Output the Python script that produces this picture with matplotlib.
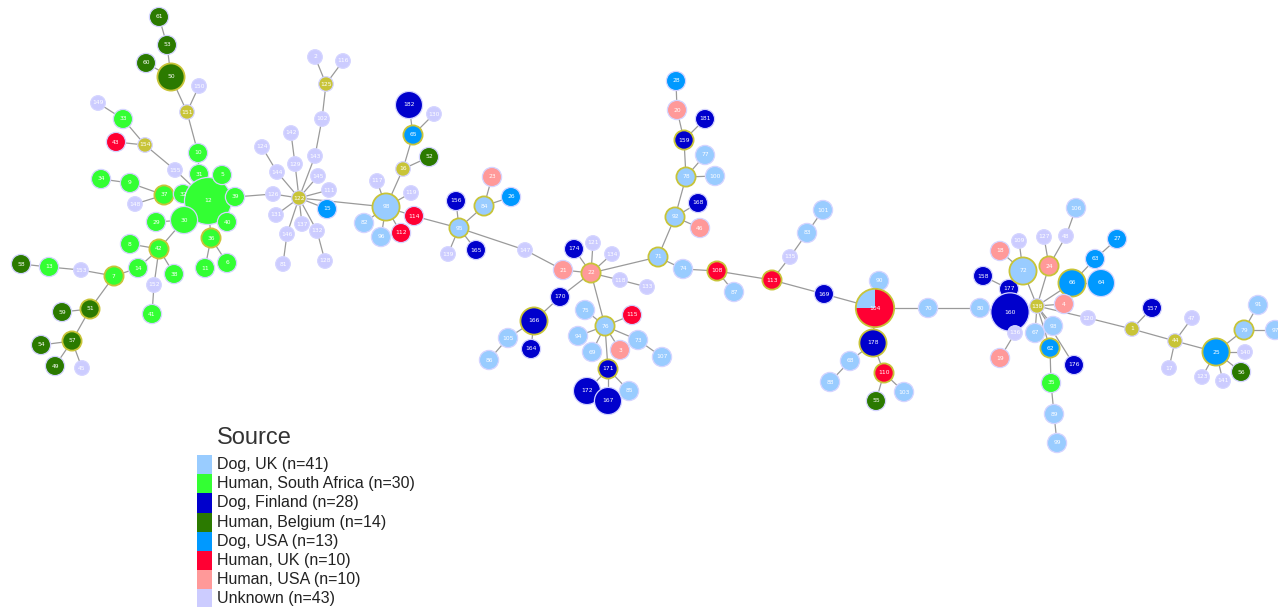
import matplotlib.pyplot as plt
from matplotlib.patches import Circle, Wedge, Rectangle

# Source categories (legend order) and colours
sources = ['Dog, UK', 'Human, South Africa', 'Dog, Finland', 'Human, Belgium',
           'Dog, USA', 'Human, UK', 'Human, USA', 'Unknown']
source_n = [41, 30, 28, 14, 13, 10, 10, 43]
source_colors = ['#99ccff', '#33ff33', '#0000cc', '#2b7a00',
                 '#0099ff', '#ff0033', '#ff9999', '#ccccff']
hyp_color = '#c8c438'

# short codes for the node table
codes = ['DUK', 'HSA', 'DFI', 'HBE', 'DUS', 'HUK', 'HUS', 'UNK']

# node id, source code, number of isolates (HYP = hypothetical node)
node_ids = [61, 53, 60, 50, 150, 151, 149, 33, 43, 154, 155, 10, 31, 34, 9, 37, 32, 12, 148,
            29, 30, 36, 8, 42, 58, 13, 153, 7, 14, 38, 11, 152, 59, 51, 41, 54, 57, 49, 45,
            5, 39, 40, 6,
            2, 116, 125, 102, 142, 124, 143, 129, 144, 145, 126, 122, 111, 15, 131, 137, 146,
            132, 81, 128, 182, 65, 130, 16, 52, 117, 119, 98, 82, 96, 112, 114,
            23, 26, 156, 84, 95, 139, 165, 147, 174, 121, 134, 21, 22, 118, 133, 170, 166,
            105, 164, 86, 75, 76, 115, 94, 69, 3, 171, 172, 167, 85, 73, 107,
            28, 20, 181, 159, 77, 78, 100, 168, 92, 46, 71, 74, 108, 87, 113, 135, 83, 101, 169,
            90, 104, 70, 80, 178, 68, 88, 110, 103, 55, 158, 177, 160, 18, 109, 72, 127, 24,
            48, 106, 138, 136, 67, 93, 62, 19, 35, 89, 99, 27, 63, 66, 64, 4, 120, 1, 157,
            47, 44, 17, 25, 140, 123, 141, 56, 79, 91, 97, 176]
node_src = ['HBE', 'HBE', 'HBE', 'HBE', 'UNK', 'HYP', 'UNK', 'HSA', 'HUK', 'HYP', 'UNK', 'HSA',
            'HSA', 'HSA', 'HSA', 'HSA', 'HSA', 'HSA', 'UNK',
            'HSA', 'HSA', 'HSA', 'HSA', 'HSA', 'HBE', 'HSA', 'UNK', 'HSA', 'HSA', 'HSA', 'HSA',
            'UNK', 'HBE', 'HBE', 'HSA', 'HBE', 'HBE', 'HBE', 'UNK',
            'HSA', 'HSA', 'HSA', 'HSA',
            'UNK', 'UNK', 'HYP', 'UNK', 'UNK', 'UNK', 'UNK', 'UNK', 'UNK', 'UNK', 'UNK', 'HYP',
            'UNK', 'DUS', 'UNK', 'UNK', 'UNK',
            'UNK', 'UNK', 'UNK', 'DFI', 'DUS', 'UNK', 'HYP', 'HBE', 'UNK', 'UNK', 'DUK', 'DUK',
            'DUK', 'HUK', 'HUK',
            'HUS', 'DUS', 'DFI', 'DUK', 'DUK', 'UNK', 'DFI', 'UNK', 'DFI', 'UNK', 'UNK', 'HUS',
            'HUS', 'UNK', 'UNK', 'DFI', 'DFI',
            'DUK', 'DFI', 'DUK', 'DUK', 'DUK', 'HUK', 'DUK', 'DUK', 'HUS', 'DFI', 'DFI', 'DFI',
            'DUK', 'DUK', 'DUK',
            'DUS', 'HUS', 'DFI', 'DFI', 'DUK', 'DUK', 'DUK', 'DFI', 'DUK', 'HUS', 'DUK', 'DUK',
            'HUK', 'DUK', 'HUK', 'UNK', 'DUK', 'DUK', 'DFI',
            'DUK', 'PIE', 'DUK', 'DUK', 'DFI', 'DUK', 'DUK', 'HUK', 'DUK', 'HBE', 'DFI', 'DFI',
            'DFI', 'HUS', 'UNK', 'DUK', 'UNK', 'HUS',
            'UNK', 'DUK', 'HYP', 'UNK', 'DUK', 'DUK', 'DUS', 'HUS', 'HSA', 'DUK', 'DUK', 'DUS',
            'DUS', 'DUS', 'DUS', 'HUS', 'UNK', 'HYP', 'DFI',
            'UNK', 'HYP', 'UNK', 'DUS', 'UNK', 'UNK', 'UNK', 'HBE', 'DUK', 'DUK', 'DUK', 'DFI']
multi_count = {50: 2, 12: 6, 30: 2, 182: 2, 98: 2, 166: 2, 172: 2, 167: 2, 104: 4,
               178: 2, 160: 4, 72: 2, 66: 2, 64: 2, 25: 2}
pie_parts = {104: [('DUK', 1), ('HUK', 3)]}
olive_ring = [50, 37, 36, 42, 7, 51, 57, 98, 65, 95, 84, 22, 166, 76, 171, 71, 92, 78,
              159, 108, 113, 104, 178, 110, 72, 24, 66, 62, 25, 79]

# layout of the minimum spanning tree (pixel space of the original image)
node_x = [159, 167, 146, 171, 199, 187, 98, 123, 116, 145, 175, 198, 199, 101, 130, 164, 183, 208, 135,
          156, 184, 211, 130, 159, 21, 49, 81, 114, 138, 174, 205, 154, 62, 90, 152, 41, 72, 55, 82,
          222, 235, 227, 227,
          315, 343, 326, 322, 291, 262, 315, 295, 277, 318, 273, 299, 329, 327, 276, 302, 287,
          317, 283, 325, 409, 413, 434, 403, 429, 377, 411, 386, 364, 381, 401, 414,
          492, 511, 456, 484, 459, 448, 476, 525, 574, 593, 612, 563, 591, 620, 647, 560, 534,
          508, 531, 489, 585, 605, 632, 578, 592, 620, 608, 587, 608, 629, 638, 662,
          676, 677, 705, 684, 705, 686, 715, 698, 675, 700, 658, 683, 717, 734, 772, 790, 807, 823, 824,
          879, 875, 928, 980, 873, 850, 830, 884, 904, 876, 983, 1009, 1010, 1000, 1019, 1023, 1044, 1049,
          1066, 1076, 1037, 1015, 1035, 1053, 1050, 1000, 1051, 1054, 1057, 1117, 1095, 1072, 1101, 1064,
          1088, 1132, 1152,
          1192, 1175, 1169, 1216, 1245, 1202, 1223, 1241, 1244, 1258, 1275, 1074]
node_y = [17, 45, 63, 77, 86, 112, 103, 119, 142, 145, 170, 153, 174, 179, 183, 195, 194, 201, 204,
          222, 220, 238, 244, 249, 264, 267, 270, 276, 268, 274, 268, 285, 312, 309, 314, 345, 341, 366, 368,
          175, 197, 222, 263,
          57, 61, 84, 119, 133, 147, 156, 164, 172, 176, 194, 198, 190, 209, 215, 224, 234,
          231, 264, 261, 105, 135, 114, 169, 157, 181, 193, 207, 223, 237, 233, 216,
          177, 197, 201, 206, 228, 254, 250, 250, 249, 243, 254, 270, 273, 280, 287, 297, 321,
          338, 349, 360, 310, 326, 315, 336, 352, 350, 369, 391, 401, 391, 340, 357,
          81, 110, 119, 140, 155, 177, 176, 203, 217, 228, 257, 269, 271, 292, 280, 257, 233, 210, 294,
          281, 308, 308, 308, 343, 361, 382, 373, 392, 401, 276, 289, 312, 251, 241, 271, 237, 266,
          236, 208, 306, 333, 333, 326, 348, 358, 383, 414, 443, 239, 259, 283, 283, 304,
          318, 329, 308,
          318, 341, 368, 352, 352, 377, 381, 372, 330, 305, 330, 365]

edges = [(61, 53), (53, 50), (60, 50), (50, 151), (150, 151), (151, 10), (10, 31), (31, 12),
         (149, 33), (33, 154), (43, 154), (154, 155), (155, 12), (34, 9), (9, 37), (148, 37),
         (37, 32), (32, 12), (12, 5), (12, 39), (12, 30), (12, 36), (12, 40), (29, 30), (30, 42),
         (8, 42), (14, 42), (42, 38), (42, 152), (152, 41), (7, 14), (58, 13), (13, 153),
         (153, 7), (7, 51), (51, 59), (51, 57), (57, 54), (57, 49), (57, 45), (36, 11), (36, 6),
         (39, 126), (126, 122), (122, 144), (144, 124), (122, 129), (129, 142), (122, 143),
         (143, 102), (102, 125), (125, 2), (125, 116), (122, 145), (122, 111), (122, 15),
         (122, 131), (122, 137), (122, 146), (146, 81), (122, 132), (132, 128), (122, 98),
         (98, 117), (98, 16), (16, 65), (65, 182), (65, 130), (16, 52), (98, 119), (98, 82),
         (98, 96), (98, 112), (98, 114), (114, 95), (95, 156), (95, 84), (84, 23), (84, 26),
         (95, 139), (95, 165), (95, 147), (147, 21), (21, 22), (22, 174), (22, 121), (22, 134),
         (22, 118), (118, 133), (22, 170), (170, 166), (166, 105), (105, 86), (166, 164),
         (22, 76), (76, 75), (76, 94), (76, 69), (76, 3), (76, 115), (76, 73), (73, 107),
         (76, 171), (171, 172), (171, 167), (171, 85), (22, 71), (71, 92), (92, 168), (92, 46),
         (92, 78), (78, 77), (78, 100), (78, 159), (159, 181), (159, 20), (20, 28), (71, 74),
         (74, 108), (108, 87), (108, 113), (113, 135), (135, 83), (83, 101), (113, 169),
         (169, 104), (104, 90), (104, 70), (70, 80), (104, 178), (178, 68), (68, 88),
         (178, 110), (110, 103), (110, 55), (80, 160), (160, 177), (177, 158), (160, 136),
         (136, 19), (160, 138), (138, 72), (72, 18), (72, 109), (138, 24), (24, 127), (24, 48),
         (48, 106), (138, 66), (66, 63), (63, 27), (66, 64), (138, 4), (138, 93), (138, 67),
         (138, 62), (62, 35), (35, 89), (89, 99), (138, 176), (138, 120), (120, 1), (1, 157),
         (1, 44), (44, 47), (44, 17), (44, 25), (25, 79), (79, 91), (79, 97), (25, 140),
         (25, 123), (25, 141), (25, 56)]

color_of = dict(zip(codes, source_colors))
color_of['HYP'] = hyp_color
pos = {n: (x, y) for n, x, y in zip(node_ids, node_x, node_y)}

fig = plt.figure(figsize=(12.78, 6.07), dpi=100)
ax = fig.add_axes([0, 0, 1, 1])
ax.set_xlim(0, 1278)
ax.set_ylim(607, 0)
ax.axis('off')

for a, b in edges:
    ax.plot([pos[a][0], pos[b][0]], [pos[a][1], pos[b][1]], color='#9a9a9a', lw=0.9, zorder=1)


def radius(node, src):
    n = multi_count.get(node, 1)
    if src in ('UNK', 'HYP'):
        return 7.3
    return 9.6 * n ** 0.5


for node, src in zip(node_ids, node_src):
    x, y = pos[node]
    r = radius(node, src)
    edge = hyp_color if node in olive_ring else '#d4d4ff'
    lw = 1.3 if node in olive_ring else 0.9
    if src == 'PIE':
        # y axis is inverted, so 180-270 degrees is the upper-left quarter on screen
        parts = pie_parts[node]
        total = sum(c for _, c in parts)
        start = 180
        for code, c in parts:
            span = 360 * c / total
            ax.add_patch(Wedge((x, y), r, start, start + span, facecolor=color_of[code],
                               edgecolor='none', zorder=2))
            start += span
        ax.add_patch(Circle((x, y), r, facecolor='none', edgecolor=edge, lw=lw, zorder=3))
    else:
        ax.add_patch(Circle((x, y), r, facecolor=color_of[src], edgecolor=edge, lw=lw, zorder=2))
    ax.text(x, y, str(node), color='white', fontsize=4.3, ha='center', va='center', zorder=4)

# legend
ax.text(217, 438, 'Source', fontsize=17, color='#333333', ha='left', va='center',
        family='Liberation Sans')
row_h = 19.2
for i, (name, n, c) in enumerate(zip(sources, source_n, source_colors)):
    y0 = 455 + i * row_h
    ax.add_patch(Rectangle((197, y0), 15, row_h, facecolor=c, edgecolor='none'))
    ax.text(217, y0 + row_h / 2, f'{name} (n={n})', fontsize=11.5, color='#222222',
            ha='left', va='center', family='Liberation Sans')

fig.savefig('out.png', dpi=100)
